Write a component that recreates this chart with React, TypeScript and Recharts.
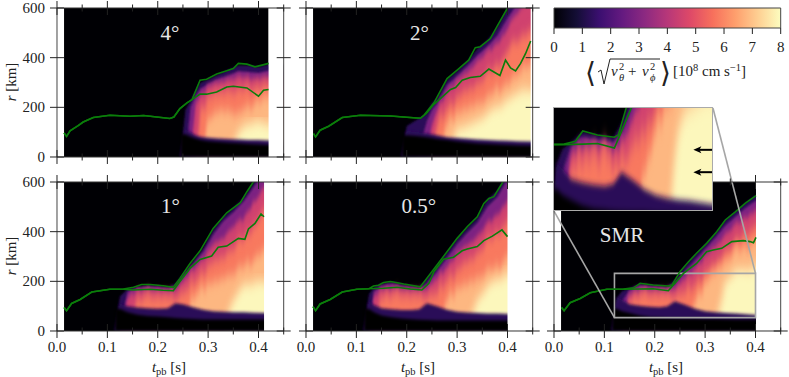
import React from 'react'
import { Area, ComposedChart, Label, Line, ReferenceArea, ReferenceDot, ReferenceLine, XAxis, YAxis } from 'recharts'

const SERIF = '"Liberation Serif", serif'

const timeTicks = [0, 0.05, 0.1, 0.15, 0.2, 0.25, 0.3, 0.35, 0.4, 0.45]
const radiusTicks = [0, 200, 400, 600]
const colorTicks = [0, 1, 2, 3, 4, 5, 6, 7, 8]

// matplotlib magma, for the colorbar
const magmaStops = ['#000004', '#140e36', '#3b0f70', '#641a80', '#8c2981', '#b73779', '#de4968', '#f7705c', '#fe9f6d', '#fecf92', '#fcfdbf']
// fill of each velocity band, slow to fast
const bandColors = ['#2a1059', '#7c2382', '#d0426f', '#f8795f', '#fdb781', '#fcf7bc']

// 4 degrees
const shockT4 = [0.014, 0.019, 0.026, 0.042, 0.052, 0.072, 0.105, 0.145, 0.172, 0.198, 0.224, 0.232, 0.244, 0.258, 0.268, 0.284, 0.297, 0.317, 0.337, 0.35, 0.36, 0.377, 0.393, 0.407, 0.42]
const shock4 = [97, 83, 105, 126, 141, 159, 168, 164, 167, 161, 155, 161, 195, 218, 231, 309, 313, 334, 347, 356, 377, 374, 363, 370, 377]
const meanT4 = [0.014, 0.019, 0.026, 0.042, 0.052, 0.072, 0.105, 0.145, 0.172, 0.198, 0.224, 0.232, 0.244, 0.258, 0.268, 0.284, 0.297, 0.317, 0.337, 0.35, 0.377, 0.4, 0.41, 0.42]
const mean4 = [97, 83, 105, 126, 141, 159, 168, 164, 167, 161, 155, 161, 195, 218, 231, 253, 253, 262, 282, 285, 278, 245, 269, 272]
const bandT4 = [0.245, 0.255, 0.265, 0.275, 0.285, 0.3, 0.32, 0.34, 0.36, 0.38, 0.4, 0.42, 0.45]
const hi0of4 = [0, 190, 225, 265, 300, 312, 332, 350, 368, 368, 362, 372, 372]
const hi1of4 = [0, 0, 200, 245, 275, 295, 315, 328, 345, 342, 338, 348, 348]
const hi2of4 = [0, 0, 0, 215, 250, 280, 300, 312, 322, 322, 318, 322, 322]
const hi3of4 = [0, 0, 0, 0, 190, 235, 260, 270, 265, 285, 280, 295, 295]
const hi4of4 = [0, 0, 0, 0, 0, 150, 185, 185, 175, 205, 225, 250, 250]
const hi5of4 = [0, 0, 0, 0, 0, 0, 0, 0, 105, 135, 140, 135, 135]
const loBright4 = [0, 110, 100, 88, 82, 78, 74, 72, 70, 68, 68, 66, 66]
const loDark4 = [92, 92, 82, 74, 68, 63, 60, 57, 55, 52, 50, 48, 48]

// 2 degrees
const shockT2 = [0.015, 0.019, 0.028, 0.045, 0.072, 0.108, 0.168, 0.2, 0.227, 0.234, 0.254, 0.28, 0.3, 0.323, 0.336, 0.346, 0.366, 0.379, 0.4, 0.41]
const shock2 = [94, 81, 108, 124, 159, 168, 165, 160, 156, 168, 218, 316, 350, 390, 440, 444, 477, 525, 600, 625]
const meanT2 = [0.015, 0.019, 0.028, 0.045, 0.072, 0.108, 0.168, 0.2, 0.227, 0.239, 0.254, 0.287, 0.297, 0.31, 0.326, 0.346, 0.363, 0.385, 0.396, 0.406, 0.416, 0.426, 0.436, 0.446]
const mean2 = [94, 81, 108, 124, 159, 168, 165, 160, 156, 175, 212, 272, 280, 309, 320, 325, 354, 328, 390, 359, 347, 377, 417, 467]
const bandT2 = [0.19, 0.2, 0.22, 0.24, 0.25, 0.26, 0.28, 0.3, 0.32, 0.34, 0.36, 0.38, 0.4, 0.42, 0.446, 0.47]
const hi0of2 = [0, 125, 150, 175, 215, 235, 310, 345, 385, 435, 470, 520, 600, 650, 720, 720]
const hi1of2 = [0, 0, 0, 145, 190, 215, 290, 325, 365, 410, 445, 490, 560, 620, 690, 690]
const hi2of2 = [0, 0, 0, 0, 130, 190, 265, 305, 340, 385, 420, 460, 520, 580, 640, 640]
const hi3of2 = [0, 0, 0, 0, 0, 140, 200, 235, 270, 295, 330, 370, 430, 465, 500, 500]
const hi4of2 = [0, 0, 0, 0, 0, 0, 140, 175, 195, 215, 235, 280, 295, 335, 375, 375]
const hi5of2 = [0, 0, 0, 0, 0, 0, 0, 115, 125, 145, 175, 205, 230, 260, 275, 275]
const loBright2 = [0, 105, 100, 95, 92, 88, 80, 76, 73, 70, 68, 66, 65, 63, 62, 62]
const loDark2 = [88, 88, 85, 80, 76, 72, 68, 62, 58, 54, 52, 50, 48, 46, 45, 45]

// 1 degree
const shockT1 = [0.014, 0.019, 0.029, 0.046, 0.069, 0.105, 0.132, 0.152, 0.168, 0.185, 0.211, 0.231, 0.244, 0.264, 0.284, 0.31, 0.337, 0.364, 0.377, 0.39, 0.4]
const shock1 = [95, 82, 111, 127, 157, 168, 169, 176, 187, 187, 182, 176, 212, 272, 323, 413, 476, 517, 561, 601, 634]
const meanT1 = [0.014, 0.019, 0.029, 0.046, 0.069, 0.105, 0.132, 0.152, 0.185, 0.211, 0.231, 0.244, 0.264, 0.284, 0.307, 0.32, 0.337, 0.36, 0.373, 0.38, 0.393, 0.405, 0.411]
const mean1 = [95, 82, 111, 127, 157, 168, 168, 165, 168, 164, 162, 199, 252, 288, 302, 337, 342, 373, 369, 411, 433, 471, 460]
const bandT1 = [0.115, 0.125, 0.14, 0.16, 0.18, 0.2, 0.22, 0.235, 0.25, 0.27, 0.29, 0.31, 0.33, 0.35, 0.37, 0.39, 0.411, 0.44]
const hi0of1 = [0, 140, 168, 178, 184, 182, 176, 190, 228, 280, 332, 408, 458, 495, 535, 595, 660, 660]
const hi1of1 = [0, 0, 158, 172, 178, 176, 170, 176, 218, 268, 318, 388, 442, 478, 520, 578, 640, 640]
const hi2of1 = [0, 0, 135, 164, 166, 165, 161, 166, 200, 250, 292, 345, 378, 420, 452, 520, 572, 572]
const hi3of1 = [0, 0, 0, 130, 142, 142, 136, 130, 155, 200, 240, 272, 302, 332, 372, 432, 472, 472]
const hi4of1 = [0, 0, 0, 0, 0, 0, 0, 0, 0, 140, 178, 192, 212, 232, 262, 292, 322, 322]
const hi5of1 = [0, 0, 0, 0, 0, 0, 0, 0, 0, 0, 0, 0, 0, 130, 185, 195, 200, 200]
const loBright1 = [0, 110, 100, 95, 92, 90, 92, 112, 108, 96, 86, 80, 78, 75, 75, 73, 72, 72]
const loDark1 = [90, 90, 75, 65, 60, 58, 55, 52, 50, 48, 46, 46, 46, 46, 46, 46, 46, 46]

// 0.5 degrees
const shockT05 = [0.014, 0.019, 0.028, 0.048, 0.072, 0.101, 0.125, 0.134, 0.144, 0.154, 0.168, 0.194, 0.227, 0.24, 0.26, 0.28, 0.3, 0.32, 0.34, 0.353, 0.363, 0.373, 0.389, 0.396, 0.4]
const shock05 = [98, 82, 109, 127, 157, 168, 170, 181, 184, 195, 199, 189, 178, 212, 266, 319, 373, 420, 460, 514, 534, 541, 594, 621, 635]
const meanT05 = [0.014, 0.019, 0.028, 0.048, 0.072, 0.101, 0.125, 0.154, 0.181, 0.207, 0.23, 0.244, 0.254, 0.273, 0.293, 0.31, 0.32, 0.34, 0.353, 0.37, 0.389, 0.4]
const mean05 = [98, 82, 109, 127, 157, 168, 170, 172, 176, 169, 165, 192, 239, 289, 297, 323, 330, 340, 364, 382, 407, 380]
const bandT05 = [0.115, 0.125, 0.135, 0.15, 0.17, 0.19, 0.21, 0.225, 0.24, 0.26, 0.28, 0.3, 0.32, 0.34, 0.36, 0.38, 0.4, 0.43]
const hi0of05 = [0, 148, 176, 190, 198, 190, 182, 176, 208, 262, 315, 370, 415, 455, 530, 565, 635, 635]
const hi1of05 = [0, 0, 160, 180, 190, 180, 175, 168, 190, 240, 295, 350, 395, 435, 500, 540, 610, 610]
const hi2of05 = [0, 0, 140, 168, 170, 168, 165, 162, 170, 215, 260, 310, 345, 380, 430, 470, 530, 530]
const hi3of05 = [0, 0, 0, 140, 150, 150, 145, 140, 135, 160, 210, 240, 280, 310, 360, 400, 450, 450]
const hi4of05 = [0, 0, 0, 0, 0, 0, 0, 0, 0, 0, 130, 170, 190, 210, 240, 260, 300, 300]
const hi5of05 = [0, 0, 0, 0, 0, 0, 0, 0, 0, 0, 0, 0, 0, 125, 180, 210, 230, 230]
const loBright05 = [0, 120, 105, 92, 88, 85, 85, 88, 112, 100, 86, 78, 74, 72, 70, 70, 68, 68]
const loDark05 = [90, 90, 75, 62, 55, 50, 47, 45, 44, 42, 42, 42, 42, 42, 42, 42, 42, 42]

// SMR
const shockTS = [0.015, 0.02, 0.032, 0.052, 0.072, 0.105, 0.138, 0.158, 0.171, 0.197, 0.227, 0.234, 0.25, 0.267, 0.283, 0.303, 0.323, 0.34, 0.36, 0.38, 0.401]
const shockS = [95, 82, 114, 131, 154, 168, 169, 174, 192, 185, 181, 185, 239, 279, 313, 353, 400, 447, 480, 515, 545]
const meanTS = [0.015, 0.02, 0.032, 0.052, 0.072, 0.105, 0.138, 0.171, 0.197, 0.227, 0.237, 0.257, 0.283, 0.303, 0.316, 0.333, 0.353, 0.376, 0.389, 0.396, 0.401]
const meanS = [95, 82, 114, 131, 154, 168, 168, 169, 170, 162, 185, 232, 272, 319, 326, 333, 360, 364, 360, 355, 377]
const bandTS = [0.115, 0.125, 0.135, 0.15, 0.17, 0.19, 0.21, 0.225, 0.24, 0.26, 0.28, 0.3, 0.32, 0.34, 0.36, 0.38, 0.4, 0.43]
const hi0ofS = [0, 135, 160, 172, 190, 186, 183, 180, 205, 260, 305, 348, 392, 445, 480, 515, 545, 545]
const hi1ofS = [0, 0, 120, 165, 182, 178, 175, 172, 190, 240, 285, 330, 375, 425, 460, 495, 525, 525]
const hi2ofS = [0, 0, 0, 150, 165, 165, 165, 160, 170, 215, 255, 300, 340, 390, 425, 460, 490, 490]
const hi3ofS = [0, 0, 0, 120, 150, 150, 150, 145, 140, 165, 190, 230, 270, 320, 350, 400, 430, 430]
const hi4ofS = [0, 0, 0, 0, 0, 0, 0, 0, 0, 0, 120, 190, 240, 280, 320, 340, 370, 370]
const hi5ofS = [0, 0, 0, 0, 0, 0, 0, 0, 0, 0, 0, 0, 0, 200, 240, 250, 260, 260]
const loBrightS = [0, 135, 125, 108, 102, 98, 96, 100, 120, 106, 90, 80, 75, 72, 70, 67, 64, 64]
const loDarkS = [90, 90, 80, 72, 62, 56, 54, 52, 51, 50, 50, 48, 48, 47, 46, 46, 46, 46]

const arrowTimes = [0.367, 0.367]
const arrowRadii = [159, 120]

const series = (ts: number[], rs: number[]) => ts.map((t, i) => ({ t, r: rs[i] }))

const PLOT_W = 226.7
const PLOT_H = 149
// axes need 1px of box to be drawn, so each margin is one short
const M = { left: 56, top: 89, right: 7, bottom: 45 }
const FONT_SIZE = 15

function TimeTick({ x, y, payload, labelled }: any) {
  const major = Math.round(payload.value * 100) % 10 === 0
  const len = major ? 7 : 3.5
  return (
    <g>
      <line x1={x} x2={x} y1={y - len} y2={y + len} stroke="#222" />
      {labelled && major && payload.value < 0.45 && (
        <text x={x} y={y + 21} textAnchor="middle" fontFamily={SERIF} fontSize={FONT_SIZE} fill="#222">{payload.value.toFixed(1)}</text>
      )}
    </g>
  )
}

function RadiusTick({ x, y, payload, labelled }: any) {
  return (
    <g>
      <line x1={x - 7} x2={x + 7} y1={y} y2={y} stroke="#222" />
      {labelled && <text x={x - 12} y={y + 5} textAnchor="end" fontFamily={SERIF} fontSize={FONT_SIZE} fill="#222">{payload.value}</text>}
    </g>
  )
}

function Arrow({ cx, cy }: any) {
  return (
    <g>
      <line x1={cx + 5} x2={cx + 19} y1={cy} y2={cy} stroke="#000" strokeWidth={2} />
      <path d={`M${cx},${cy} L${cx + 8},${cy - 3.5} L${cx + 6},${cy} L${cx + 8},${cy + 3.5} Z`} fill="#000" />
    </g>
  )
}

// the streak filters wobble the band edges vertically, like the plumes in the data
function BlurDefs({ suffix, scale }: any) {
  const streak = (id: string, shift: number, sx: number, sy: number) => (
    <filter id={`${id}${suffix}`} x="-8%" y="-15%" width="116%" height="130%" colorInterpolationFilters="sRGB">
      <feTurbulence type="fractalNoise" baseFrequency="0.3 0.005" numOctaves={2} seed={4} result="noise" />
      <feColorMatrix in="noise" type="matrix" values="0 0 0 0 0.5  0 1 0 0 0  0 0 0 0 0  0 0 0 0 1" result="shift" />
      <feDisplacementMap in="SourceGraphic" in2="shift" scale={shift * scale} xChannelSelector="R" yChannelSelector="G" />
      <feGaussianBlur stdDeviation={`${sx} ${sy * scale}`} />
    </filter>
  )
  return (
    <defs>
      <filter id={`edge${suffix}`} x="-5%" y="-5%" width="110%" height="110%"><feGaussianBlur stdDeviation={1 * scale} /></filter>
      <filter id={`low${suffix}`} x="-5%" y="-10%" width="110%" height="120%"><feGaussianBlur stdDeviation={`1.5 ${1.8 * scale}`} /></filter>
      {streak('mid', 10, 1.2, 3)}
      {streak('soft', 24, 1.6, 6)}
      {streak('cream', 24, 3.2, 6)}
    </defs>
  )
}

const bandFilters = ['edge', 'edge', 'mid', 'soft', 'soft', 'cream']

// painted back to front: backdrop, the bands from slow to fast, then the two
// inner edges on top, then the white strip right of the data
function heatLayers(bandT: number[], highs: number[][], loBright: number[], loDark: number[], tEnd: number, suffix: string) {
  const common = { baseValue: 0, stroke: 'none', dot: false, activeDot: false, isAnimationActive: false, dataKey: 'r', legendType: 'none' as const }
  return [
    <Area key="bg" {...common} data={series([0.014, tEnd], [600, 600])} fill="#000004" fillOpacity={1} />,
    ...highs.map((hi, i) => (
      <Area key={`hi${i}`} {...common} data={series(bandT, hi)} fill={bandColors[i]} fillOpacity={1} filter={`url(#${bandFilters[i]}${suffix})`} />
    )),
    <Area key="loB" {...common} data={series(bandT, loBright)} fill={bandColors[0]} fillOpacity={1} filter={`url(#low${suffix})`} />,
    <Area key="loD" {...common} data={series(bandT, loDark)} fill="#000004" fillOpacity={1} filter={`url(#low${suffix})`} />,
    <Area key="cover" {...common} data={series([tEnd, 0.45], [600, 600])} fill="#ffffff" fillOpacity={1} />,
  ]
}

function Panel({ px, py, title, titleT, titleR, bandT, highs, loBright, loDark, tEnd, shock, mean, xLabels, yLabels, extra }: any) {
  return (
    <div style={{ position: 'absolute', left: px - M.left - 1, top: py - M.top - 1 }}>
      <ComposedChart width={M.left + PLOT_W + M.right + 2} height={M.top + PLOT_H + M.bottom + 2} margin={M}>
        <BlurDefs suffix="P" scale={1} />
        {heatLayers(bandT, highs, loBright, loDark, tEnd, 'P')}
        <Line data={shock} dataKey="r" stroke="#0b7d0b" strokeWidth={1.6} dot={false} activeDot={false} isAnimationActive={false} />
        <Line data={mean} dataKey="r" stroke="#0b7d0b" strokeWidth={1.6} dot={false} activeDot={false} isAnimationActive={false} />
        <XAxis xAxisId={0} dataKey="t" type="number" domain={[0, 0.45]} ticks={timeTicks} interval={0} height={1} tickSize={0} tickMargin={0} tickLine={false} allowDataOverflow stroke="#333"
          tick={(p: any) => <TimeTick {...p} labelled={xLabels} />}>
          {xLabels && (
            <Label content={() => (
              <text x={M.left + 113} y={M.top + PLOT_H + 42} textAnchor="middle" fontFamily={SERIF} fontSize={FONT_SIZE} fill="#222">
                <tspan fontStyle="italic">t</tspan><tspan dy={3} fontSize={10.5}>pb</tspan><tspan dy={-3}> [s]</tspan>
              </text>
            )} />
          )}
        </XAxis>
        <XAxis xAxisId="top" orientation="top" dataKey="t" type="number" domain={[0, 0.45]} ticks={timeTicks} interval={0} height={1} tickSize={0} tickMargin={0} tickLine={false} allowDataOverflow stroke="#333"
          tick={(p: any) => <TimeTick {...p} labelled={false} />} />
        <YAxis yAxisId={0} type="number" domain={[0, 600]} ticks={radiusTicks} interval={0} width={1} tickSize={0} tickMargin={0} tickLine={false} allowDataOverflow stroke="#444"
          tick={(p: any) => <RadiusTick {...p} labelled={yLabels} />}>
          {yLabels && (
            <Label content={() => (
              <text x={0} y={0} transform={`translate(16,${M.top + 75}) rotate(-90)`} textAnchor="middle" fontFamily={SERIF} fontSize={FONT_SIZE} fill="#222">
                <tspan fontStyle="italic">r</tspan> [km]
              </text>
            )} />
          )}
        </YAxis>
        <YAxis yAxisId="right" orientation="right" type="number" domain={[0, 600]} ticks={radiusTicks} interval={0} width={1} tickSize={0} tickMargin={0} tickLine={false} allowDataOverflow stroke="#444"
          tick={(p: any) => <RadiusTick {...p} labelled={false} />} />
        <ReferenceDot x={titleT} y={titleR} r={0} ifOverflow="visible" stroke="none"
          label={{ value: title, position: 'center', fill: '#e6e6e6', fontSize: 21, fontFamily: SERIF }} />
        {extra}
      </ComposedChart>
    </div>
  )
}

function Inset() {
  const highs = [hi0ofS, hi1ofS, hi2ofS, hi3ofS, hi4ofS, hi5ofS]
  return (
    <div style={{ position: 'absolute', left: 553, top: 107, width: 158, height: 102, border: '1.5px solid #aaa', background: '#000' }}>
      <ComposedChart width={158} height={102} margin={{ left: 0, right: 0, top: 0, bottom: 0 }}>
        <BlurDefs suffix="I" scale={1.8} />
        {heatLayers(bandTS, highs, loBrightS, loDarkS, 0.45, 'I')}
        <Line data={series(shockTS, shockS)} dataKey="r" stroke="#0b7d0b" strokeWidth={1.6} dot={false} activeDot={false} isAnimationActive={false} />
        <Line data={series(meanTS, meanS)} dataKey="r" stroke="#0b7d0b" strokeWidth={1.6} dot={false} activeDot={false} isAnimationActive={false} />
        <XAxis dataKey="t" type="number" domain={[0.12, 0.4]} hide allowDataOverflow />
        <YAxis type="number" domain={[54, 232]} hide allowDataOverflow />
        {arrowTimes.map((t, i) => (
          <ReferenceDot key={i} x={t} y={arrowRadii[i]} ifOverflow="visible" shape={(p: any) => <Arrow {...p} />} />
        ))}
      </ComposedChart>
    </div>
  )
}

function Colorbar() {
  const bar = [{ v: 0, y: 1 }, { v: 8, y: 1 }]
  return (
    <div style={{ position: 'absolute', left: 544, top: 0 }}>
      <ComposedChart width={245} height={90} data={bar} margin={{ left: 9, top: 7, right: 7.3, bottom: 61 }}>
        <defs>
          <linearGradient id="magma" x1="0" x2="1" y1="0" y2="0">
            {magmaStops.map((c, i) => <stop key={c} offset={i / (magmaStops.length - 1)} stopColor={c} />)}
          </linearGradient>
        </defs>
        <Area dataKey="y" baseValue={0} stroke="none" fill="url(#magma)" fillOpacity={1} dot={false} activeDot={false} isAnimationActive={false} />
        <XAxis dataKey="v" type="number" domain={[0, 8]} ticks={colorTicks} interval={0} height={1} tickSize={0} tickMargin={0} tickLine={false} stroke="#444"
          tick={({ x, y, payload }: any) => (
            <g>
              <line x1={x} x2={x} y1={y} y2={y + 6} stroke="#222" />
              <text x={x} y={y + 24} textAnchor="middle" fontFamily={SERIF} fontSize={FONT_SIZE} fill="#222">{payload.value}</text>
            </g>
          )}>
          <Label content={() => (
            <g fontFamily={SERIF} fill="#222" fontSize={FONT_SIZE}>
              <text x={41} y={82} fontFamily="DejaVu Sans" fontSize={28}>⟨</text>
              <path d="M54,72 L57,70 L60,84 L66,59 L116,59" fill="none" stroke="#222" />
              <text x={67} y={76} fontStyle="italic">v</text>
              <text x={75} y={70} fontSize={10.5}>2</text>
              <text x={75} y={81} fontSize={10.5} fontStyle="italic">θ</text>
              <text x={84} y={76}>+</text>
              <text x={98} y={76} fontStyle="italic">v</text>
              <text x={106} y={70} fontSize={10.5}>2</text>
              <text x={106} y={81} fontSize={10.5} fontStyle="italic">ϕ</text>
              <text x={116} y={82} fontFamily="DejaVu Sans" fontSize={28}>⟩</text>
              <text x={129} y={76}>
                [10<tspan dy={-5} fontSize={10.5}>8</tspan><tspan dy={5}> cm s</tspan><tspan dy={-5} fontSize={10.5}>−1</tspan><tspan dy={5}>]</tspan>
              </text>
            </g>
          )} />
        </XAxis>
        <XAxis xAxisId="top" orientation="top" dataKey="v" type="number" domain={[0, 8]} height={1} tick={false} tickLine={false} stroke="#444" />
        <YAxis type="number" domain={[0, 1]} width={1} tick={false} tickLine={false} stroke="#444" />
        <YAxis yAxisId="right" orientation="right" type="number" domain={[0, 1]} width={1} tick={false} tickLine={false} stroke="#444" />
      </ComposedChart>
    </div>
  )
}

const zoomBoxStyle = { stroke: '#a6a6a6', strokeWidth: 1.6 }

export default function App() {
  return (
    <div style={{ position: 'absolute', left: 0, top: 0, width: 789, height: 377, overflow: 'hidden', background: '#fff' }}>
      <Panel px={57} py={8} title="4°" titleT={0.224} titleR={502} yLabels bandT={bandT4} tEnd={0.42}
        highs={[hi0of4, hi1of4, hi2of4, hi3of4, hi4of4, hi5of4]} loBright={loBright4} loDark={loDark4}
        shock={series(shockT4, shock4)} mean={series(meanT4, mean4)} />
      <Panel px={305.7} py={8} title="2°" titleT={0.225} titleR={502} bandT={bandT2} tEnd={0.446}
        highs={[hi0of2, hi1of2, hi2of2, hi3of2, hi4of2, hi5of2]} loBright={loBright2} loDark={loDark2}
        shock={series(shockT2, shock2)} mean={series(meanT2, mean2)} />
      <Panel px={57} py={182} title="1°" titleT={0.225} titleR={507} xLabels yLabels bandT={bandT1} tEnd={0.411}
        highs={[hi0of1, hi1of1, hi2of1, hi3of1, hi4of1, hi5of1]} loBright={loBright1} loDark={loDark1}
        shock={series(shockT1, shock1)} mean={series(meanT1, mean1)} />
      <Panel px={305.7} py={182} title="0.5°" titleT={0.224} titleR={507} xLabels bandT={bandT05} tEnd={0.4}
        highs={[hi0of05, hi1of05, hi2of05, hi3of05, hi4of05, hi5of05]} loBright={loBright05} loDark={loDark05}
        shock={series(shockT05, shock05)} mean={series(meanT05, mean05)} />
      <Panel px={554} py={182} title="SMR" titleT={0.135} titleR={387} xLabels bandT={bandTS} tEnd={0.401}
        highs={[hi0ofS, hi1ofS, hi2ofS, hi3ofS, hi4ofS, hi5ofS]} loBright={loBrightS} loDark={loDarkS}
        shock={series(shockTS, shockS)} mean={series(meanTS, meanS)}
        extra={[
          <ReferenceArea key="box" x1={0.12} x2={0.4} y1={54} y2={232} fill="none" ifOverflow="visible" {...zoomBoxStyle} />,
          <ReferenceLine key="l1" segment={[{ x: 0, y: 483 }, { x: 0.12, y: 54 }]} ifOverflow="visible" {...zoomBoxStyle} />,
          <ReferenceLine key="l2" segment={[{ x: 0.3155, y: 898 }, { x: 0.4, y: 232 }]} ifOverflow="visible" {...zoomBoxStyle} />,
        ]} />
      <Inset />
      <Colorbar />
    </div>
  )
}
